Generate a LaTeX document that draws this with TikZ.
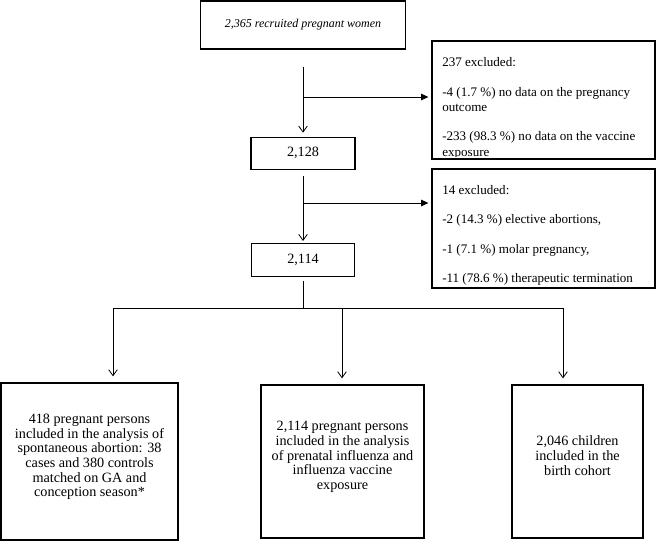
\documentclass[tikz,border=0pt]{standalone}
\usepackage{fontspec}
\setmainfont{Liberation Serif}
\usetikzlibrary{positioning, arrows.meta}
\tikzset{
x=0.75pt, y=-0.75pt, % one unit is one pixel, y grows downwards
every node/.style={inner sep=0pt},
box/.style={draw=black, line width=1pt, fill=white, align=center, font=\fontsize{10.65}{11}\selectfont}, % counts and final groups
groupbox/.style={box, text depth=9pt}, % text sits a bit above the middle
exclbox/.style={draw=black, line width=1pt, minimum width=167.25pt}, % boxes for the excluded women
excltext/.style={align=left, anchor=north west, font=\fontsize{9.8}{11.5}\selectfont},
flow/.style={draw=black, line width=0.6pt, -{Straight Barb[length=4.5pt, width=6.5pt]}}, % open arrow downwards
side/.style={draw=black, line width=0.6pt, -{Triangle[length=5.5pt, width=5pt]}}, % filled arrow to the right
link/.style={draw=black, line width=0.6pt},
}

\begin{document}
\begin{tikzpicture}
      \useasboundingbox (0,0) rectangle (656,543);

      \node[box, minimum width=153.75pt, minimum height=36pt, font=\fontsize{9}{11}\itshape] (recruited) at (303,25) {2,365 recruited pregnant women};
      \node[box, minimum width=78pt, minimum height=24pt, below=65.25pt of recruited] (n2128) {2,128};
      \node[box, minimum width=77.25pt, minimum height=24.75pt, below=54.75pt of n2128] (n2114) {2,114};

      \node[exclbox, minimum height=88.5pt] (excl1) at (543.5,100) {};
      \node[exclbox, minimum height=89.25pt] (excl2) at (543.5,228.5) {};

      \begin{scope}
        \clip (432,41) rectangle (655,156.5);
        \node[excltext] (excl1text) at (442,57.5) {237 excluded:\\[10.5pt]
          -4 (1.7 \%) no data on the pregnancy\\
          outcome\\[10.5pt]
          -233 (98.3 \%) no data on the vaccine\\
          exposure};
      \end{scope}
      \node[excltext] (excl2text) at (442,185) {14 excluded:\\[10.5pt]
        -2 (14.3 \%) elective abortions,\\[10.5pt]
        -1 (7.1 \%) molar pregnancy,\\[10.5pt]
        -11 (78.6 \%) therapeutic termination};

      \node[groupbox, minimum width=132.75pt, minimum height=117.75pt] (abortion) at (89.5,461.5) {418 pregnant persons\\
        included in the analysis of\\
        spontaneous abortion: 38\\
        cases and 380 controls\\
        matched on GA and\\
        conception season*};
      \node[groupbox, minimum width=122.25pt, minimum height=114.75pt] (exposure) at (342.5,461.5) {2,114 pregnant persons\\
        included in the analysis\\
        of prenatal influenza and\\
        influenza vaccine\\
        exposure};
      \node[groupbox, minimum width=98.25pt, minimum height=114.75pt] (cohort) at (577.5,461.5) {2,046 children\\
        included in the\\
        birth cohort};

      \coordinate (b1) at (303,97);
      \coordinate (b2) at (303,203);
      \coordinate (split) at (303,308);
      \coordinate (d1) at (113,308);
      \coordinate (d2) at (342,308);
      \coordinate (d3) at (563,308);

      \draw[flow, shorten <=12.75pt, shorten >=3pt] (recruited) -- (n2128);
      \draw[flow, shorten <=4.5pt, shorten >=1.5pt] (n2128) -- (n2114);
      \draw[side, shorten >=2.25pt] (b1) -- (b1 -| excl1.west);
      \draw[side, shorten >=2.25pt] (b2) -- (b2 -| excl2.west);
      \draw[link, shorten <=3pt] (n2114) -- (split);
      \draw[link] (d1) -- (d3);
      \draw[flow, shorten >=4.5pt] (d1) -- (d1 |- abortion.north);
      \draw[flow, shorten >=4.5pt] (d2) -- (d2 |- exposure.north);
      \draw[flow, shorten >=4.5pt] (d3) -- (d3 |- cohort.north);
\end{tikzpicture}
\end{document}
